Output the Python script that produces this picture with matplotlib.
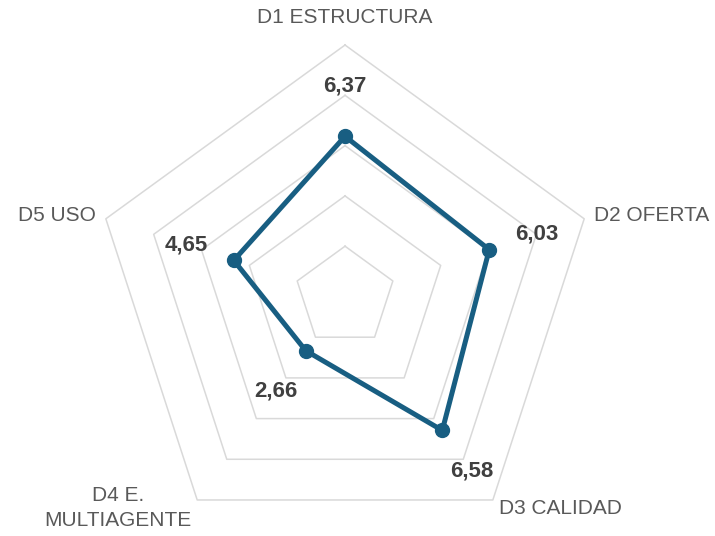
import numpy as np
import matplotlib.pyplot as plt

categories = ["D1 ESTRUCTURA", "D2 OFERTA", "D3 CALIDAD", "D4 E.\nMULTIAGENTE", "D5 USO"]
values = [6.37, 6.03, 6.58, 2.66, 4.65]
value_labels = ["6,37", "6,03", "6,58", "2,66", "4,65"]
rings = [2, 4, 6, 8, 10]

line_color = "#185e82"
grid_color = "#d9d9d9"

plt.rcParams['font.family'] = ['Liberation Sans', 'DejaVu Sans']

fig = plt.figure(figsize=(7.15, 5.36), dpi=100)
ax = fig.add_axes([0.1308, -0.0224, 0.7035, 0.9384], projection="polar")
ax.set_theta_offset(np.pi / 2)
ax.set_theta_direction(-1)
ax.set_ylim(0, 10)
ax.axis("off")

n = len(categories)
angles = np.linspace(0, 2 * np.pi, n, endpoint=False)
closed = np.append(angles, angles[0])

# pentagon grid
for r in rings:
    ax.plot(closed, [r] * (n + 1), color=grid_color, lw=1.1, zorder=1, clip_on=False)

vals = np.append(values, values[0])
ax.plot(closed, vals, color=line_color, lw=3.6, zorder=3, clip_on=False)
ax.plot(angles, values, "o", color=line_color, ms=10, zorder=4, clip_on=False)

for a, v, t in zip(angles, values, value_labels):
    ax.text(a, v + 2, t, ha="center", va="center", fontsize=16,
            fontweight="bold", color="#404040")

# category labels
aligns = ["center", "left", "left", "right", "right"]
radii = [11.1, 10.4, 10.4, 10.4, 10.4]
for a, c, ha, r in zip(angles, categories, aligns, radii):
    ax.text(a, r, c, ha=ha, va="center", fontsize=15, color="#595959",
            multialignment="center", linespacing=1.4)

fig.savefig("out.png", dpi=100)
